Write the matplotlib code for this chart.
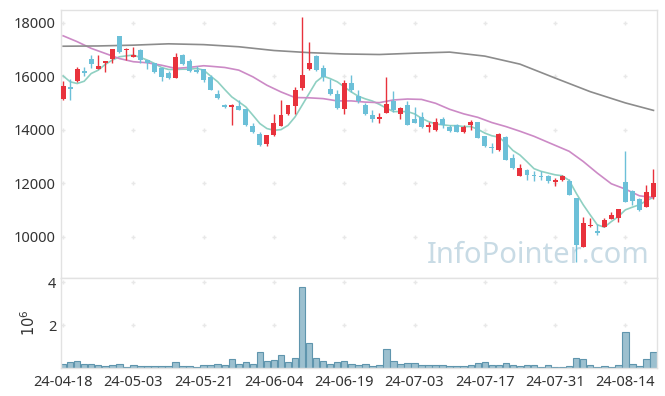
import matplotlib
matplotlib.use("Agg")

import matplotlib.pyplot as plt
import numpy as np

# daily candles, 2024-04-18 .. 2024-08-21 (85 trading days)
opens = [15130, 15590, 15825, 16175, 16660, 16275, 16500, 16660, 17500, 16975,
         16725, 16975, 16600, 16475, 16290, 16125, 15940, 16790, 16560, 16225,
         16250, 15975, 15350, 14940, 14850, 14900, 14760, 14125, 13825, 13475,
         13790, 14150, 14575, 14890, 15575, 16260, 16750, 16310, 15510, 15350,
         14775, 15750, 15260, 14940, 14550, 14400, 14635, 15080, 14585, 14920,
         14390, 14460, 14080, 13990, 14390, 14100, 14165, 13930, 14180, 14290,
         13770, 13345, 13220, 13720, 12940, 12255, 12500, 12310, 12275, 12250,
         12050, 12100, 12060, 11460, 9625, 10400, 10210, 10350, 10660, 10690,
         12025, 11710, 11410, 11100, 11475]
highs = [15820, 15910, 16350, 16350, 16790, 16775, 16580, 17000, 17500, 17040,
         17075, 17000, 16600, 16500, 16350, 16190, 16875, 16825, 16625, 16375,
         16275, 16040, 15475, 14975, 14975, 15100, 14760, 14250, 13910, 13810,
         14600, 15100, 14940, 15600, 18200, 17290, 16775, 16410, 15910, 15475,
         15850, 16060, 15500, 15000, 14735, 14610, 15975, 15440, 14860, 15070,
         14860, 14650, 14300, 14425, 14460, 14180, 14200, 14180, 14360, 14300,
         13770, 13495, 13890, 13770, 13100, 12715, 12525, 12440, 12440, 12310,
         12190, 12310, 12150, 11460, 10725, 10690, 10460, 10690, 10910, 11040,
         13210, 11750, 11440, 11940, 12525]
lows = [15120, 15125, 15800, 16000, 16290, 16275, 16150, 16500, 16875, 16600,
        16700, 16500, 16250, 16100, 15825, 15910, 15925, 16400, 16160, 16100,
        15790, 15475, 15160, 14810, 14190, 14725, 14140, 13890, 13400, 13375,
        13750, 14125, 14560, 14600, 15500, 16225, 16200, 15810, 15310, 14790,
        14600, 15410, 15000, 14540, 14275, 14240, 14620, 14670, 14390, 14180,
        14240, 14055, 13905, 13965, 14055, 13920, 13905, 13870, 13990, 13700,
        13345, 13120, 13210, 12850, 12530, 12250, 12125, 12060, 12125, 12000,
        11875, 12090, 11560, 9060, 9620, 10375, 10060, 10340, 10650, 10560,
        11300, 11190, 10940, 11090, 11410]
closes = [15620, 15525, 16250, 16100, 16450, 16375, 16560, 17000, 16910, 17010,
          16790, 16600, 16475, 16160, 15975, 15940, 16700, 16440, 16200, 16160,
          15850, 15475, 15190, 14850, 14910, 14750, 14160, 13910, 13410, 13810,
          14260, 14540, 14910, 15500, 16040, 16500, 16225, 15975, 15350, 14810,
          15750, 15475, 15060, 14600, 14400, 14475, 14960, 14735, 14800, 14180,
          14265, 14080, 14180, 14290, 14180, 13955, 13930, 14080, 14300, 13705,
          13370, 13310, 13830, 12850, 12550, 12580, 12310, 12250, 12225, 12060,
          12100, 12275, 11560, 9690, 10500, 10440, 10150, 10625, 10810, 11040,
          11310, 11340, 11000, 11660, 12000]
volumes = [205e3, 300e3, 346e3, 205e3, 205e3, 157e3, 110e3, 157e3, 205e3, 63e3,
           157e3, 110e3, 110e3, 110e3, 110e3, 110e3, 300e3, 110e3, 110e3, 63e3,
           157e3, 157e3, 205e3, 157e3, 441e3, 205e3, 300e3, 205e3, 724e3, 346e3,
           394e3, 583e3, 300e3, 488e3, 3750e3, 1150e3, 488e3, 346e3, 205e3, 300e3,
           346e3, 205e3, 157e3, 205e3, 110e3, 157e3, 866e3, 346e3, 205e3, 252e3,
           252e3, 157e3, 157e3, 157e3, 157e3, 110e3, 110e3, 110e3, 157e3, 252e3,
           300e3, 157e3, 157e3, 252e3, 157e3, 110e3, 157e3, 157e3, 63e3, 157e3,
           63e3, 63e3, 110e3, 488e3, 441e3, 157e3, 63e3, 110e3, 63e3, 157e3,
           1670e3, 205e3, 110e3, 441e3, 724e3]

ma5 = [16010, 15790, 15725, 15810, 16100, 16225, 16440, 16600, 16725, 16760,
       16790, 16700, 16600, 16475, 16325, 16250, 16250, 16260, 16260, 16290,
       16225, 16000, 15790, 15500, 15225, 15040, 14850, 14540, 14225, 14040,
       13975, 14000, 14160, 14475, 14910, 15350, 15790, 16000, 15910, 15790,
       15600, 15410, 15250, 15150, 15070, 14945, 14800, 14675, 14675, 14675,
       14590, 14425, 14300, 14215, 14180, 14150, 14150, 14115, 14115, 14015,
       13870, 13770, 13720, 13495, 13220, 13050, 12800, 12540, 12440, 12375,
       12310, 12275, 12100, 11625, 11190, 10810, 10440, 10350, 10560, 10750,
       11000, 11100, 11190, 11340, 11475]
ma20_day = [0, 2, 4, 6, 8, 10, 12, 14, 16, 18, 20, 21, 23, 25, 27, 29, 31, 33,
            35, 37, 39, 41, 43, 45, 47, 49, 51, 53, 55, 57, 59, 61, 63, 65, 67,
            69, 72, 74, 76, 78, 80, 82, 84]
ma20 = [17510, 17290, 17040, 16850, 16660, 16540, 16500, 16410, 16290, 16330,
        16390, 16370, 16325, 16225, 15975, 15660, 15410, 15200, 15190, 15160,
        15075, 15075, 15030, 15010, 15110, 15145, 15130, 14985, 14760, 14590,
        14460, 14265, 14115, 13940, 13750, 13525, 13190, 12810, 12375, 11975,
        11775, 11525, 11460]
ma60_day = [0, 5, 10, 15, 20, 25, 30, 35, 40, 45, 50, 55, 60, 65, 70, 75, 80, 84]
ma60 = [17120, 17130, 17160, 17210, 17180, 17100, 16960, 16880, 16830, 16810,
        16860, 16900, 16750, 16450, 15930, 15420, 15000, 14720]

tick_days = [0, 10, 20, 30, 40, 50, 60, 70, 80]
tick_labels = ["24-04-18", "24-05-03", "24-05-21", "24-06-04", "24-06-19",
               "24-07-03", "24-07-17", "24-07-31", "24-08-14"]
price_ticks = [10000, 12000, 14000, 16000, 18000]
vol_ticks = [2, 4]

UP = "#e8323c"
DOWN = "#6cc0d8"
FRAME = "#e2e2e2"
TEXT = "#333333"
plt.rcParams["font.family"] = ["Noto Sans", "DejaVu Sans"]

fig = plt.figure(figsize=(6.65, 3.96), dpi=100)
left, width = 61 / 665, 596 / 665
ax = fig.add_axes([left, 1 - 278 / 396, width, 268 / 396])
axv = fig.add_axes([left, 1 - 368 / 396, width, 90 / 396], sharex=ax)

days = np.arange(len(closes))
o = np.array(opens)
c = np.array(closes)
up = c >= o
colors = np.where(up, UP, DOWN)

ax.vlines(days, lows, highs, colors=colors, linewidth=1.0, zorder=3)
body_lo = np.minimum(o, c)
body_h = np.maximum(np.abs(c - o), 40)
ax.bar(days, body_h, bottom=body_lo, width=0.7, color=colors, zorder=4)

ax.plot(days, ma5, color="#8fd0c2", linewidth=1.2, zorder=2)
ax.plot(ma20_day, ma20, color="#cc8ac6", linewidth=1.2, zorder=2)
ax.plot(ma60_day, ma60, color="#8c8c8c", linewidth=1.2, zorder=2)

ax.set_xlim(-0.3, 84.5)
ax.set_ylim(8450, 18475)
ax.set_yticks(price_ticks)
ax.tick_params(axis="y", length=0, labelsize=10.5, colors=TEXT, pad=4)
ax.tick_params(axis="x", length=0, labelbottom=False)

gx, gy = np.meshgrid(tick_days, price_ticks)
ax.plot(gx.ravel(), gy.ravel(), "+", color="#e8e8e8", markersize=3.5, zorder=1)

ax.text(0.80, 0.085, "InfoPointer.com", transform=ax.transAxes,
        fontsize=21, color="#c8dbe5", ha="center", va="center", zorder=0)

axv.bar(days, np.array(volumes) / 1e6, width=0.92, color="#9cc0cf",
        edgecolor="#5f95ad", linewidth=0.8, zorder=2)
axv.set_ylim(0, 4.19)
axv.set_yticks(vol_ticks)
axv.set_xticks(tick_days)
axv.set_xticklabels(tick_labels)
axv.tick_params(axis="both", length=0, labelsize=10.5, colors=TEXT)
axv.tick_params(axis="x", pad=5)
axv.set_ylabel("$10^6$", fontsize=10.5, color=TEXT, labelpad=6)
vx, vy = np.meshgrid(tick_days, vol_ticks)
axv.plot(vx.ravel(), vy.ravel(), "+", color="#e8e8e8", markersize=3.5, zorder=1)

for a in (ax, axv):
    for s in a.spines.values():
        s.set_color(FRAME)
        s.set_linewidth(1.0)

fig.savefig("out.png", dpi=100)
